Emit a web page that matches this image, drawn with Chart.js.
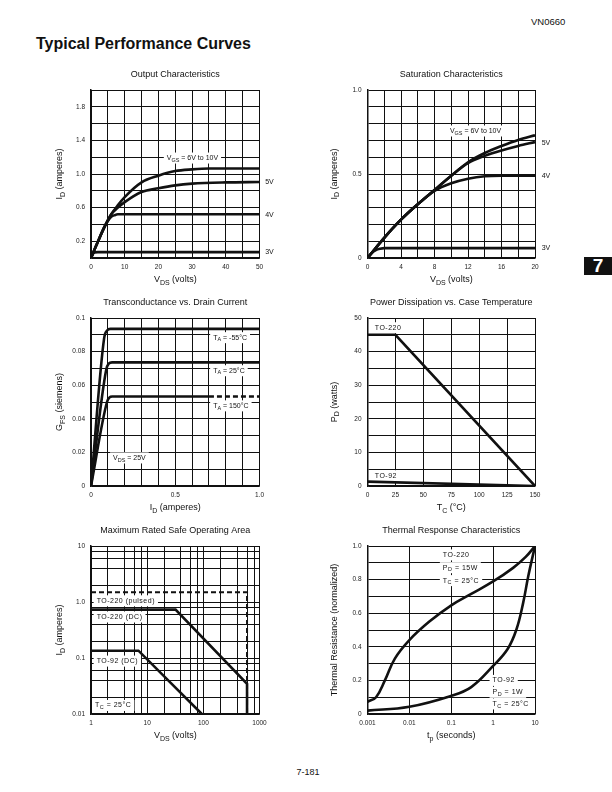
<!DOCTYPE html>
<html lang="en">
<head>
<meta charset="UTF-8">
<title>VN0660 Typical Performance Curves</title>
<script src="https://cdn.jsdelivr.net/npm/chart.js@4.4.1/dist/chart.umd.min.js"></script>
<style>
  body { margin: 0; background: #fff; font-family: "Liberation Sans", Arial, sans-serif; color: #111; }
  #page { position: relative; width: 612px; height: 792px; overflow: hidden; }
  canvas { position: absolute; }
  .part { position: absolute; left: 531px; top: 17px; font-size: 9.5px; line-height: 10px; }
  .head { position: absolute; left: 36px; top: 35.5px; font-size: 16px; line-height: 16px; font-weight: bold; }
  .tab { position: absolute; left: 584px; top: 256.5px; width: 28px; height: 18px; background: #111; color: #fff;
         font-size: 19px; line-height: 18px; font-weight: bold; text-align: center; }
  .folio { position: absolute; left: 288px; width: 40px; top: 767.5px; font-size: 9px; line-height: 9px; text-align: center; }
</style>
</head>
<body>
<div id="page">
  <div class="part">VN0660</div>
  <div class="head">Typical Performance Curves</div>
  <div class="tab">7</div>
  <div class="folio">7-181</div>
  <canvas id="outChart"></canvas>
  <canvas id="satChart"></canvas>
  <canvas id="gfsChart"></canvas>
  <canvas id="pdChart"></canvas>
  <canvas id="soaChart"></canvas>
  <canvas id="thChart"></canvas>
</div>
<script>
// Output characteristics (VDS volts -> ID amperes)
const outVds6 = [0, 2, 4, 6, 8, 10, 15, 20, 25, 30, 35, 40, 50];
const outId6 = [0, 0.19, 0.37, 0.52, 0.63, 0.725, 0.90, 0.98, 1.035, 1.055, 1.065, 1.065, 1.065];
const outVds5 = [0, 2, 4, 6, 8, 10, 15, 20, 25, 30, 40, 50];
const outId5 = [0, 0.19, 0.37, 0.52, 0.60, 0.665, 0.785, 0.83, 0.865, 0.885, 0.90, 0.905];
const outVds4 = [0, 2, 4, 5, 6, 7, 8, 10, 50];
const outId4 = [0, 0.19, 0.37, 0.44, 0.49, 0.51, 0.52, 0.52, 0.52];
const outVds3 = [0, 0.5, 1, 2, 50];
const outId3 = [0, 0.045, 0.063, 0.07, 0.07];
const outXLabels = ['0', '10', '20', '30', '40', '50'];
const outYLabels = ['0.2', '0.6', '1.0', '1.4', '1.8'];

// Saturation characteristics
const satVds6 = [0, 2, 4, 6, 8, 10, 12, 14, 16, 18, 20];
const satId6 = [0, 0.12, 0.228, 0.32, 0.405, 0.49, 0.57, 0.625, 0.667, 0.703, 0.73];
const satVds5 = [0, 2, 4, 6, 8, 10, 12, 14, 16, 18, 20];
const satId5 = [0, 0.12, 0.228, 0.32, 0.405, 0.49, 0.565, 0.608, 0.64, 0.667, 0.69];
const satVds4 = [0, 2, 4, 6, 8, 10, 12, 14, 16, 20];
const satId4 = [0, 0.12, 0.228, 0.32, 0.40, 0.445, 0.472, 0.487, 0.49, 0.49];
const satVds3 = [0, 0.5, 1, 1.5, 2, 20];
const satId3 = [0, 0.03, 0.047, 0.055, 0.059, 0.059];
const satXLabels = ['0', '4', '8', '12', '16', '20'];
const satYLabels = ['0', '0.5', '1.0'];

// Transconductance vs drain current
const gfsId55 = [0, 0.078, 0.095, 0.115, 1.0];
const gfsG55 = [0, 0.088, 0.0925, 0.0935, 0.0935];
const gfsId25 = [0, 0.09, 0.105, 0.125, 1.0];
const gfsG25 = [0, 0.069, 0.0728, 0.0736, 0.0736];
const gfsId150 = [0, 0.095, 0.11, 0.125, 0.7];
const gfsG150 = [0, 0.050, 0.0528, 0.0533, 0.0533];
const gfsId150Dash = [0.7, 1.0];
const gfsG150Dash = [0.0533, 0.0533];
const gfsXLabels = ['0', '0.5', '1.0'];
const gfsYLabels = ['0', '0.02', '0.04', '0.06', '0.08', '0.1'];

// Power dissipation vs case temperature
const pdTc220 = [0, 25, 150];
const pdW220 = [45, 45, 0];
const pdTc92 = [0, 150];
const pdW92 = [1.3, 0];
const pdXLabels = ['0', '25', '50', '75', '100', '125', '150'];
const pdYLabels = ['0', '10', '20', '30', '40', '50'];

// Safe operating area (log-log)
const soaVPulsed = [1, 600, 600];
const soaIPulsed = [1.5, 1.5, 0.01];
const soaV220 = [1, 32, 600, 600];
const soaI220 = [0.73, 0.73, 0.0345, 0.01];
const soaV92 = [1, 7, 94];
const soaI92 = [0.135, 0.135, 0.01];
const soaXLabels = ['1', '10', '100', '1000'];
const soaYLabels = ['0.01', '0.1', '1.0', '10'];
const soaMinor = [1, 2, 4, 6, 8];

// Thermal response
const thT220 = [0.001, 0.0016, 0.0026, 0.0045, 0.01, 0.03, 0.1, 0.3, 1, 3, 6, 10];
const thR220 = [0.073, 0.1, 0.2, 0.33, 0.44, 0.55, 0.647, 0.715, 0.789, 0.87, 0.935, 1.0];
const thT92 = [0.001, 0.01, 0.1, 0.3, 1, 2.2, 3.6, 5.2, 6.9, 10];
const thR92 = [0.02, 0.043, 0.108, 0.16, 0.286, 0.385, 0.503, 0.66, 0.82, 1.0];
const thXLabels = ['0.001', '0.01', '0.1', '1', '10'];
const thYLabels = ['0', '0.2', '0.4', '0.6', '0.8', '1.0'];

const INK = '#111';
const FAMILY = '"Liberation Sans", Arial, sans-serif';
const YW = 40, XH = 20;
const NOTE = 7;

Chart.defaults.font.family = FAMILY;
Chart.defaults.color = INK;

// text with _{sub} parts
function parts(str) {
  return str.split(/_\{([^}]*)\}/).map((t, i) => ({ t, sub: i % 2 === 1 })).filter(p => p.t);
}
function setFont(ctx, size, sub) { ctx.font = (sub ? size * 0.78 : size) + 'px ' + FAMILY; }
function richWidth(ctx, str, size) {
  let w = 0;
  for (const p of parts(str)) { setFont(ctx, size, p.sub); w += ctx.measureText(p.t).width; }
  return w;
}
function drawRich(ctx, str, x, y, size, align) {
  const w = richWidth(ctx, str, size);
  let cx = align === 'center' ? x - w / 2 : x;
  ctx.textAlign = 'left';
  ctx.textBaseline = 'middle';
  for (const p of parts(str)) {
    setFont(ctx, size, p.sub);
    ctx.fillText(p.t, cx, p.sub ? y + size * 0.32 : y);
    cx += ctx.measureText(p.t).width;
  }
}

const sheetText = {
  id: 'sheetText',
  beforeDatasetsDraw(chart, args, o) {
    const { ctx, scales } = chart;
    ctx.save();
    ctx.letterSpacing = o.spacing;
    ctx.fillStyle = '#fff';
    for (const n of o.notes) {
      if (!n.bg) continue;
      const x = scales.x.getPixelForValue(n.x), y = scales.y.getPixelForValue(n.y);
      ctx.fillRect(x - 3, y - 5.5, richWidth(ctx, n.text, NOTE) + 6, 11);
    }
    ctx.restore();
  },
  afterDraw(chart, args, o) {
    const { ctx, chartArea: a, scales } = chart;
    const mid = (a.left + a.right) / 2;
    ctx.save();
    ctx.fillStyle = INK;
    drawRich(ctx, o.title, mid, a.top - 15.5, 9, 'center');
    drawRich(ctx, o.xTitle, mid, a.bottom + 22, 9, 'center');
    ctx.save();
    ctx.translate(a.left - o.yGap, (a.top + a.bottom) / 2);
    ctx.rotate(-Math.PI / 2);
    drawRich(ctx, o.yTitle, 0, 0, 9, 'center');
    ctx.restore();
    ctx.letterSpacing = o.spacing;
    for (const n of o.notes) {
      drawRich(ctx, n.text, scales.x.getPixelForValue(n.x), scales.y.getPixelForValue(n.y), NOTE, 'left');
    }
    ctx.restore();
  }
};
Chart.register(sheetText);

function pts(xs, ys) { return xs.map((x, i) => ({ x, y: ys[i] })); }

function curve(xs, ys, opts) {
  return Object.assign({
    data: pts(xs, ys), borderColor: INK, borderWidth: 2.6, pointRadius: 0,
    fill: false, cubicInterpolationMode: 'monotone'
  }, opts || {});
}
function straight(xs, ys, opts) {
  return curve(xs, ys, Object.assign({ cubicInterpolationMode: 'default', tension: 0 }, opts || {}));
}
function smooth(xs, ys) {
  return curve(xs, ys, { cubicInterpolationMode: 'default', tension: 0.4 });
}

function labelFor(labels, v) {
  const hit = labels.find(l => Math.abs(parseFloat(l) - v) <= Math.abs(v) * 1e-6 + 1e-9);
  return hit === undefined ? '' : hit;
}

function tickFont() { return { size: 6.5, family: FAMILY }; }

function linAxis(min, max, step, labels, isX) {
  return {
    type: 'linear', min, max,
    ticks: {
      stepSize: step, autoSkip: false, maxRotation: 0, padding: isX ? 5 : 6,
      font: tickFont(), color: '#222',
      callback: v => labelFor(labels, v)
    },
    grid: { color: INK, lineWidth: 1, drawTicks: false },
    border: { color: INK, width: 1.5 },
    afterFit: s => { if (isX) s.height = XH; else s.width = YW; }
  };
}

function logAxis(min, max, gridValues, labels, isX) {
  return {
    type: 'logarithmic', min, max,
    afterBuildTicks: s => { s.ticks = gridValues.map(v => ({ value: v })); },
    ticks: {
      autoSkip: false, maxRotation: 0, padding: isX ? 5 : 6,
      font: tickFont(), color: '#222',
      callback: v => labelFor(labels, v)
    },
    grid: { color: INK, lineWidth: 1, drawTicks: false },
    border: { color: INK, width: 1.5 },
    afterFit: s => { if (isX) s.height = XH; else s.width = YW; }
  };
}

function decadeGrid(lo, hi, minors) {
  const vals = [];
  for (let d = lo; d < hi * 0.999; d *= 10) {
    minors.forEach(m => vals.push(parseFloat((d * m).toPrecision(6))));
  }
  vals.push(hi);
  return vals;
}

// frame = canvas box on the page, plot = wanted plot rectangle [L, T, R, B]
function makeChart(id, frame, plot, datasets, scales, text) {
  const [cx, cy, cw, ch] = frame;
  const [L, T, R, B] = plot;
  const c = document.getElementById(id);
  c.width = cw; c.height = ch;
  c.style.left = cx + 'px'; c.style.top = cy + 'px';
  return new Chart(c, {
    type: 'line',
    data: { datasets },
    options: {
      responsive: false, animation: false, events: [],
      parsing: false,
      layout: { padding: { left: L - cx - YW, top: T - cy, right: cx + cw - R, bottom: cy + ch - B - XH } },
      plugins: { legend: { display: false }, tooltip: { enabled: false }, sheetText: text },
      scales
    }
  });
}

const leftPlot = [91, 259.5], rightPlot = [367.5, 535];

makeChart('outChart', [30, 62, 270, 230], [leftPlot[0], 90, leftPlot[1], 258],
  [curve(outVds6, outId6), curve(outVds5, outId5), curve(outVds4, outId4), curve(outVds3, outId3)],
  { x: linAxis(0, 50, 5, outXLabels, true), y: linAxis(0, 2, 0.2, outYLabels, false) },
  { title: 'Output Characteristics', xTitle: 'V_{DS} (volts)', yTitle: 'I_{D} (amperes)', yGap: 31, spacing: '0px',
    notes: [
      { x: 22.5, y: 1.19, text: 'V_{GS} = 6V to 10V', bg: true },
      { x: 51.7, y: 0.9, text: '5V' },
      { x: 51.7, y: 0.51, text: '4V' },
      { x: 51.7, y: 0.07, text: '3V' }
    ] });

makeChart('satChart', [310, 62, 270, 230], [rightPlot[0], 90, rightPlot[1], 258],
  [curve(satVds6, satId6), curve(satVds5, satId5), curve(satVds4, satId4), curve(satVds3, satId3)],
  { x: linAxis(0, 20, 2, satXLabels, true), y: linAxis(0, 1, 0.1, satYLabels, false) },
  { title: 'Saturation Characteristics', xTitle: 'V_{DS} (volts)', yTitle: 'I_{D} (amperes)', yGap: 33, spacing: '0px',
    notes: [
      { x: 9.84, y: 0.756, text: 'V_{GS} = 6V to 10V', bg: true },
      { x: 20.8, y: 0.683, text: '5V' },
      { x: 20.8, y: 0.49, text: '4V' },
      { x: 20.8, y: 0.06, text: '3V' }
    ] });

makeChart('gfsChart', [30, 290, 270, 230], [leftPlot[0], 318, leftPlot[1], 486],
  [curve(gfsId55, gfsG55), curve(gfsId25, gfsG25), curve(gfsId150, gfsG150),
   straight(gfsId150Dash, gfsG150Dash, { borderDash: [5, 3] })],
  { x: linAxis(0, 1, 0.1, gfsXLabels, true), y: linAxis(0, 0.1, 0.01, gfsYLabels, false) },
  { title: 'Transconductance vs. Drain Current', xTitle: 'I_{D} (amperes)', yTitle: 'G_{FS} (siemens)', yGap: 31, spacing: '0px',
    notes: [
      { x: 0.725, y: 0.0883, text: 'T_{A} = -55°C', bg: true },
      { x: 0.725, y: 0.0686, text: 'T_{A} = 25°C', bg: true },
      { x: 0.725, y: 0.0477, text: 'T_{A} = 150°C', bg: true },
      { x: 0.131, y: 0.0167, text: 'V_{DS} = 25V', bg: true }
    ] });

makeChart('pdChart', [310, 290, 270, 230], [rightPlot[0], 318, rightPlot[1], 486],
  [straight(pdTc220, pdW220), straight(pdTc92, pdW92)],
  { x: linAxis(0, 150, 25, pdXLabels, true), y: linAxis(0, 50, 5, pdYLabels, false) },
  { title: 'Power Dissipation vs. Case Temperature', xTitle: 'T_{C} (°C)', yTitle: 'P_{D} (watts)', yGap: 33, spacing: '0.5px',
    notes: [
      { x: 6.5, y: 47.1, text: 'TO-220', bg: true },
      { x: 6.5, y: 3.06, text: 'TO-92', bg: true }
    ] });

makeChart('soaChart', [30, 518, 270, 232], [leftPlot[0], 546, leftPlot[1], 714],
  [straight(soaVPulsed, soaIPulsed, { borderDash: [5, 3], borderWidth: 2 }), straight(soaV220, soaI220), straight(soaV92, soaI92)],
  { x: logAxis(1, 1000, decadeGrid(1, 1000, soaMinor), soaXLabels, true),
    y: logAxis(0.01, 10, decadeGrid(0.01, 10, soaMinor), soaYLabels, false) },
  { title: 'Maximum Rated Safe Operating Area', xTitle: 'V_{DS} (volts)', yTitle: 'I_{D} (amperes)', yGap: 31, spacing: '0.5px',
    notes: [
      { x: 1.26, y: 1.05, text: 'TO-220 (pulsed)', bg: true },
      { x: 1.26, y: 0.54, text: 'TO-220 (DC)', bg: true },
      { x: 1.26, y: 0.088, text: 'TO-92 (DC)', bg: true },
      { x: 1.18, y: 0.0142, text: 'T_{C} = 25°C', bg: true }
    ] });

makeChart('thChart', [310, 518, 270, 232], [rightPlot[0], 546, rightPlot[1], 714],
  [smooth(thT220, thR220), smooth(thT92, thR92)],
  { x: logAxis(0.001, 10, decadeGrid(0.001, 10, [1]), thXLabels, true),
    y: linAxis(0, 1, 0.1, thYLabels, false) },
  { title: 'Thermal Response Characteristics', xTitle: 't_{p} (seconds)', yTitle: 'Thermal Resistance (normalized)', yGap: 33, spacing: '0.5px',
    notes: [
      { x: 0.063, y: 0.947, text: 'TO-220', bg: true },
      { x: 0.063, y: 0.871, text: 'P_{D} = 15W', bg: true },
      { x: 0.063, y: 0.794, text: 'T_{C} = 25°C', bg: true },
      { x: 0.97, y: 0.2, text: 'TO-92', bg: true },
      { x: 0.97, y: 0.129, text: 'P_{D} = 1W', bg: true },
      { x: 0.97, y: 0.06, text: 'T_{C} = 25°C', bg: true }
    ] });
</script>
</body>
</html>
